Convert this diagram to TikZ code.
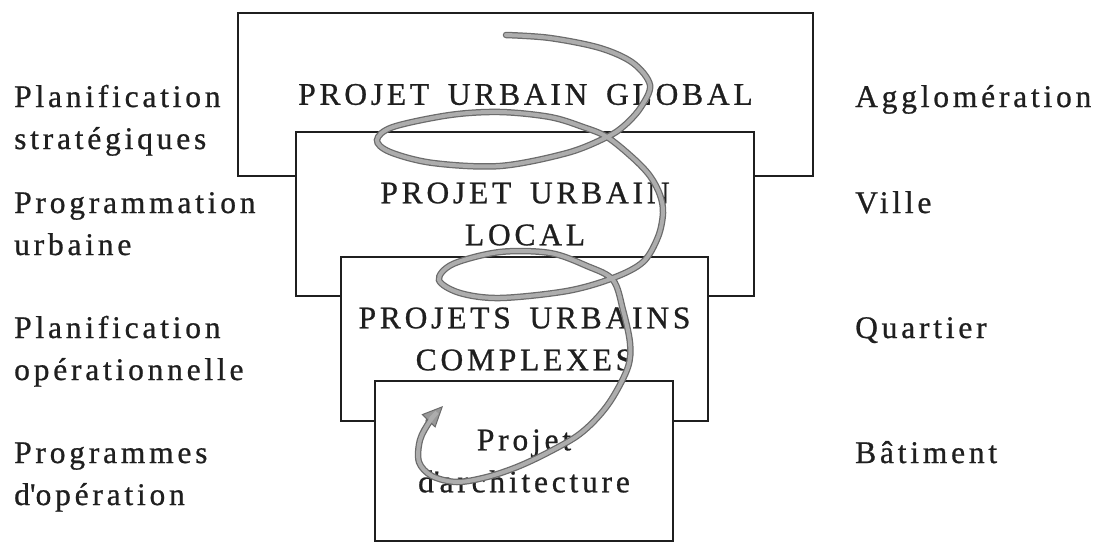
\documentclass[tikz,border=0pt]{standalone}
\usepackage{fontspec}
\setmainfont{Liberation Serif}[LetterSpace=12,WordSpace=1.6,Ligatures=NoCommon,FakeBold=0.8]
\usetikzlibrary{arrows.meta}
\begin{document}
\begin{tikzpicture}[x=1pt,y=-1pt,
  lvl/.style={draw=black!88, line width=2.4pt, fill=white, inner sep=0pt,
    align=center, text=black!88, font=\fontsize{31.5}{42}\selectfont},
  lbl/.style={anchor=base west, inner sep=0pt, text=black!88,
    font=\fontsize{31.5}{42}\selectfont},
  spiraledge/.style={draw=black!58, line width=6.5pt, line cap=round},
  spiralcore/.style={draw=black!32, line width=4pt, line cap=round}]
\useasboundingbox (0,0) rectangle (1107,544);

% nested levels, each one partly covering the one above
\node[lvl, minimum width=575pt, minimum height=163pt] (global) at (525.5,94.5)
  {PROJET URBAIN GLOBAL};
\node[lvl, minimum width=458pt, minimum height=164pt] (local) at (525,214)
  {PROJET URBAIN\\LOCAL};
\node[lvl, minimum width=367pt, minimum height=164pt] (complexes) at (524.5,339)
  {PROJETS URBAINS\\COMPLEXES};
\node[lvl, minimum width=298pt, minimum height=160pt] (archi) at (524,461)
  {Projet\\d\textquotesingle architecture};

% planning instruments (left)
\node[lbl] (planstrat) at (14,107)
  {\begin{tabular}[t]{@{}l@{}}Planification\\stratégiques\end{tabular}};
\node[lbl] (prog) at (14,213)
  {\begin{tabular}[t]{@{}l@{}}Programmation\\urbaine\end{tabular}};
\node[lbl] (planop) at (14,338)
  {\begin{tabular}[t]{@{}l@{}}Planification\\opérationnelle\end{tabular}};
\node[lbl] (progop) at (14,463)
  {\begin{tabular}[t]{@{}l@{}}Programmes\\d\textquotesingle opération\end{tabular}};

% territorial scales (right)
\node[lbl] (agglo) at (855,107) {Agglomération};
\node[lbl] (ville) at (855,213) {Ville};
\node[lbl] (quartier) at (855,338) {Quartier};
\node[lbl] (batiment) at (855,463) {Bâtiment};

% spiral running down through the levels
\def\spiralpts{(506,35) (550,38) (600,48) (633,63) (650,85) (641,107) (625,125)
  (607,137) (567,153) (500,166) (433,163) (390,152) (377,140) (393,127)
  (450,115) (500,112) (550,117) (583,127) (607,137) (633,158) (650,176)
  (660,195) (663,213) (658,237) (643,262) (613,278) (567,291) (500,298)
  (460,293) (439,280) (453,264) (500,252) (550,253) (587,266) (613,280)
  (623,310) (630,343) (628,367) (613,397) (597,418) (577,436) (547,453)
  (517,467) (487,477) (457,482) (432,476) (419,462) (420,440) (430,421)
  (443,406)}
\draw[spiraledge, -{Triangle[length=21pt,width=19pt,line width=1pt,fill=black!40]}]
  plot[smooth, tension=0.55] coordinates {\spiralpts};
\draw[spiralcore, shorten >=17pt]
  plot[smooth, tension=0.55] coordinates {\spiralpts};
\end{tikzpicture}
\end{document}
